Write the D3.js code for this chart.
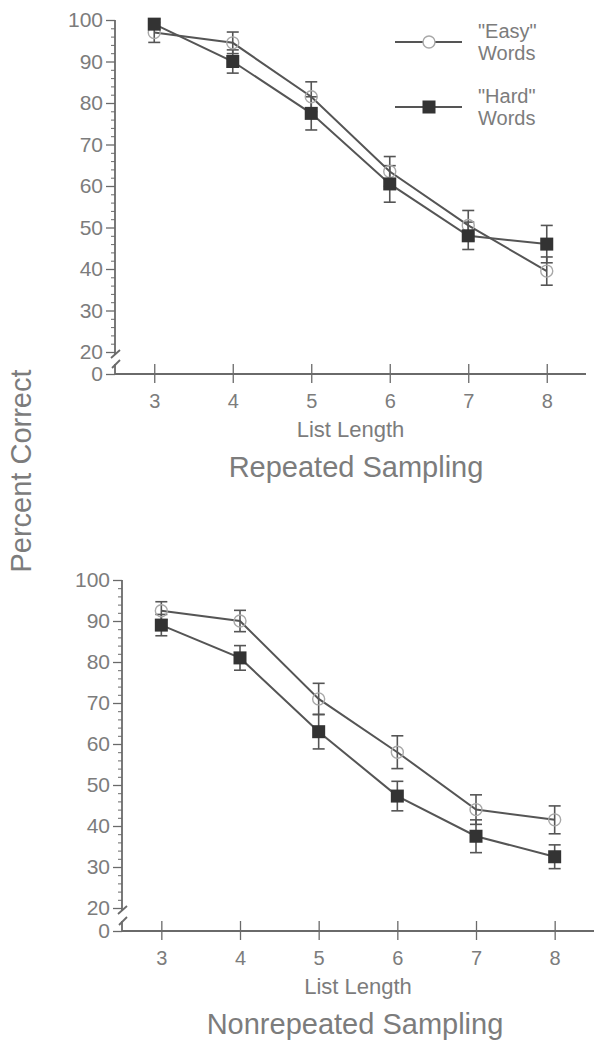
<!DOCTYPE html>
<html>
<head>
<meta charset="utf-8">
<script src="https://cdn.jsdelivr.net/npm/d3@7"></script>
<style>
  html, body { margin: 0; padding: 0; background: #fff; }
  svg { display: block; }
  text { font-family: "Liberation Sans", Arial, Helvetica, sans-serif; }
</style>
</head>
<body>
<svg id="chart" width="608" height="1050"></svg>
<script>
// ---- data ----
const listLengths = [3, 4, 5, 6, 7, 8];
const yTickValues = [0, 20, 30, 40, 50, 60, 70, 80, 90, 100];
const yMinorValues = [22,24,26,28,32,34,36,38,42,44,46,48,52,54,56,58,62,64,66,68,72,74,76,78,82,84,86,88,92,94,96,98];

const repEasy = [97, 94.5, 81.5, 63.5, 50.5, 39.5];
const repEasyErr = [2.4, 2.6, 3.6, 3.6, 3.6, 3.4];
const repHard = [99, 90, 77.5, 60.5, 48, 46];
const repHardErr = [1.2, 2.8, 4.0, 4.4, 3.3, 4.5];

const nonEasy = [92.5, 90, 71, 58, 44, 41.5];
const nonEasyErr = [2.2, 2.6, 3.8, 4.0, 3.6, 3.4];
const nonHard = [89, 81, 63, 47.3, 37.5, 32.5];
const nonHardErr = [2.6, 3.0, 4.2, 3.6, 4.0, 2.9];

const panelTitles = ["Repeated Sampling", "Nonrepeated Sampling"];
const xAxisTitle = "List Length";
const yAxisTitle = "Percent Correct";
const legendLabels = [["\"Easy\"", "Words"], ["\"Hard\"", "Words"]];

// ---- styles ----
const textColor = "#7c7c7c";
const axisColor = "#6a6a6a";
const lineColor = "#555";
const circleColor = "#a8a8a8";
const squareColor = "#333";

const svg = d3.select("#chart");

function drawPanel(cfg) {
  const g = svg.append("g");
  const x = d3.scaleLinear().domain([2.5, 8.5]).range([cfg.left, cfg.right]);
  const y = d3.scaleLinear().domain([0, 20, 100]).range([cfg.y0, cfg.y20, cfg.y100]);
  const ax = cfg.left;

  // y major ticks + labels
  const yAxis = d3.axisLeft(y).tickValues(yTickValues).tickSize(9).tickPadding(3).tickFormat(d3.format("d"));
  const gy = g.append("g").attr("transform", `translate(${ax},0)`).call(yAxis);
  gy.select(".domain").remove();
  gy.selectAll(".tick line").attr("stroke", axisColor).attr("stroke-width", 1.3);
  gy.selectAll(".tick text").attr("fill", textColor).style("font-size", "21px");

  // y minor ticks
  const yMinor = d3.axisLeft(y).tickValues(yMinorValues).tickSize(4).tickFormat("");
  const gm = g.append("g").attr("transform", `translate(${ax},0)`).call(yMinor);
  gm.select(".domain").remove();
  gm.selectAll(".tick line").attr("stroke", axisColor).attr("stroke-width", 1);

  // y axis line with break
  const yb = y(20);
  g.append("line").attr("x1", ax).attr("x2", ax).attr("y1", y(100)).attr("y2", yb + 3)
    .attr("stroke", axisColor).attr("stroke-width", 1.8);
  g.append("line").attr("x1", ax - 4).attr("y1", yb + 6).attr("x2", ax + 5).attr("y2", yb - 2)
    .attr("stroke", axisColor).attr("stroke-width", 1.8);
  const y0 = y(0);
  g.append("line").attr("x1", ax).attr("x2", ax).attr("y1", y0).attr("y2", y0 - 10)
    .attr("stroke", axisColor).attr("stroke-width", 1.8);
  g.append("line").attr("x1", ax - 3).attr("y1", y0 - 6).attr("x2", ax + 5).attr("y2", y0 - 14)
    .attr("stroke", axisColor).attr("stroke-width", 1.8);

  // x axis
  const xAxis = d3.axisBottom(x).tickValues(listLengths).tickSize(10).tickPadding(10).tickFormat(d3.format("d"));
  const gx = g.append("g").attr("transform", `translate(0,${y0})`).call(xAxis);
  gx.select(".domain").remove();
  gx.selectAll(".tick line").attr("y1", -10).attr("y2", 9).attr("stroke", axisColor).attr("stroke-width", 1.3);
  gx.selectAll(".tick text").attr("fill", textColor).style("font-size", "20px");
  g.append("line").attr("x1", ax).attr("x2", x(8.5)).attr("y1", y0).attr("y2", y0)
    .attr("stroke", axisColor).attr("stroke-width", 1.8);

  // axis title + panel title
  g.append("text").attr("x", (x(2.5) + x(8.5)) / 2).attr("y", y0 + 63)
    .attr("text-anchor", "middle").attr("fill", textColor).style("font-size", "22px").text(xAxisTitle);
  g.append("text").attr("x", cfg.titleX).attr("y", y0 + 103)
    .attr("text-anchor", "middle").attr("fill", textColor).style("font-size", "29px").text(cfg.title);

  const line = d3.line().x((d, i) => x(listLengths[i])).y(d => y(d));

  // lines
  [cfg.easy, cfg.hard].forEach(series => {
    g.append("path").datum(series).attr("d", line)
      .attr("fill", "none").attr("stroke", lineColor).attr("stroke-width", 2);
  });

  // error bars
  function errBars(vals, errs) {
    const eb = g.append("g").attr("stroke", lineColor).attr("stroke-width", 1.6);
    vals.forEach((v, i) => {
      const cx = x(listLengths[i]);
      const top = y(v + errs[i]), bot = y(v - errs[i]);
      eb.append("line").attr("x1", cx).attr("x2", cx).attr("y1", top).attr("y2", bot);
      eb.append("line").attr("x1", cx - 6).attr("x2", cx + 6).attr("y1", top).attr("y2", top);
      eb.append("line").attr("x1", cx - 6).attr("x2", cx + 6).attr("y1", bot).attr("y2", bot);
    });
  }
  errBars(cfg.easy, cfg.easyErr);
  errBars(cfg.hard, cfg.hardErr);

  // markers
  g.selectAll(".easy").data(cfg.easy).enter().append("circle")
    .attr("cx", (d, i) => x(listLengths[i])).attr("cy", d => y(d)).attr("r", 6)
    .attr("fill", "none").attr("stroke", circleColor).attr("stroke-width", 1.4);
  g.selectAll(".hard").data(cfg.hard).enter().append("rect")
    .attr("x", (d, i) => x(listLengths[i]) - 6.5).attr("y", d => y(d) - 6.5)
    .attr("width", 13).attr("height", 13).attr("fill", squareColor);

  return g;
}

drawPanel({ left: 115, right: 586, y0: 374, y20: 352, y100: 20, titleX: 356,
  title: panelTitles[0], easy: repEasy, easyErr: repEasyErr, hard: repHard, hardErr: repHardErr });
drawPanel({ left: 122, right: 594, y0: 931, y20: 908, y100: 580, titleX: 355,
  title: panelTitles[1], easy: nonEasy, easyErr: nonEasyErr, hard: nonHard, hardErr: nonHardErr });

// legend
const lg = svg.append("g");
const legendY = [42, 107];
legendY.forEach((ly, i) => {
  lg.append("line").attr("x1", 395).attr("x2", 462).attr("y1", ly).attr("y2", ly)
    .attr("stroke", lineColor).attr("stroke-width", 2);
  if (i === 0) {
    lg.append("circle").attr("cx", 429).attr("cy", ly).attr("r", 6)
      .attr("fill", "#fff").attr("stroke", circleColor).attr("stroke-width", 1.4);
  } else {
    lg.append("rect").attr("x", 422.5).attr("y", ly - 6.5).attr("width", 13).attr("height", 13)
      .attr("fill", squareColor);
  }
  lg.append("text").attr("x", 478).attr("y", ly - 4).attr("fill", textColor).style("font-size", "20px")
    .text(legendLabels[i][0]);
  lg.append("text").attr("x", 478).attr("y", ly + 18).attr("fill", textColor).style("font-size", "20px")
    .text(legendLabels[i][1]);
});

// shared y-axis title
svg.append("text").attr("transform", "translate(31,471) rotate(-90)")
  .attr("text-anchor", "middle").attr("fill", textColor).style("font-size", "29px").text(yAxisTitle);
</script>
</body>
</html>
